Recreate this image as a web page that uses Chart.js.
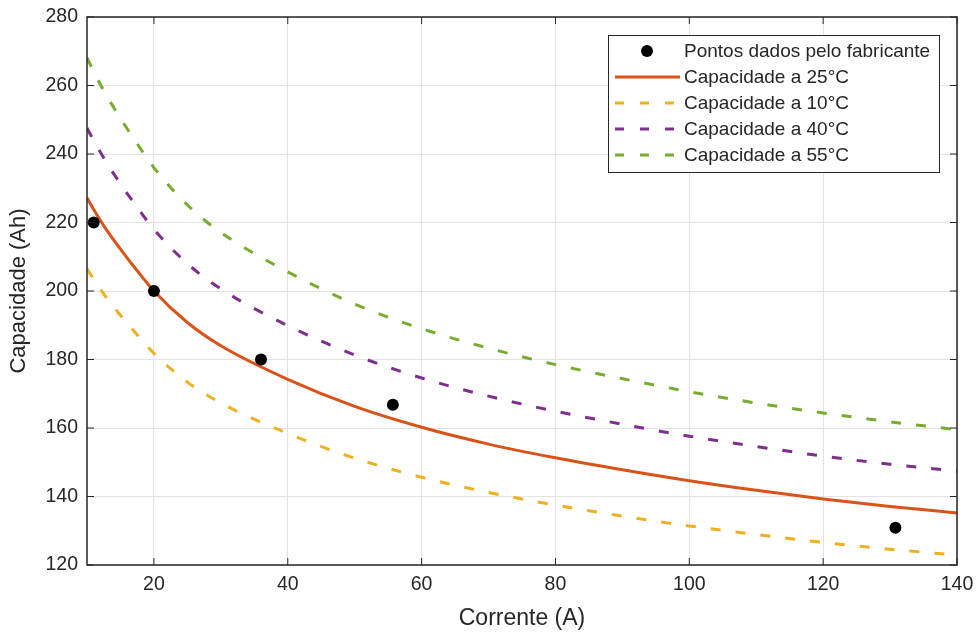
<!DOCTYPE html>
<html>
<head>
<meta charset="utf-8">
<script src="https://cdn.jsdelivr.net/npm/chart.js@4.4.0/dist/chart.umd.min.js"></script>
<style>
  html, body { margin: 0; padding: 0; background: #fff; }
  #wrap { width: 976px; height: 635px; }
</style>
</head>
<body>
<div id="wrap"><canvas id="line_chart" width="976" height="635"></canvas></div>
<script>
// Eixos
const xTicks = [20, 40, 60, 80, 100, 120, 140];
const yTicks = [120, 140, 160, 180, 200, 220, 240, 260, 280];

// Pontos dados pelo fabricante
const pontosX = [11, 20, 36, 55.7, 130.8];
const pontosY = [220, 200, 180, 166.8, 130.9];

// Curvas de capacidade
const correnteX = [10, 11, 12, 13, 15, 17.5, 20, 25, 30, 40, 50, 60, 70, 80, 90, 100, 110, 120, 130, 140];
const cap25 = [227.2, 223.8, 220.6, 217.6, 212.2, 205.9, 200.0, 190.8, 184.0, 174.2, 166.3, 160.2, 155.3, 151.3, 147.8, 144.6, 141.8, 139.3, 137.1, 135.2];
const cap10 = [206.5, 203.4, 200.5, 197.8, 192.9, 187.2, 181.8, 173.4, 167.3, 158.4, 151.2, 145.6, 141.2, 137.5, 134.3, 131.4, 128.9, 126.6, 124.6, 122.9];
const cap40 = [247.6, 243.9, 240.5, 237.2, 231.3, 224.4, 218.0, 208.0, 200.6, 189.9, 181.3, 174.6, 169.3, 164.9, 161.1, 157.6, 154.6, 151.8, 149.4, 147.4];
const cap55 = [268.1, 264.1, 260.3, 256.8, 250.4, 243.0, 236.0, 225.1, 217.1, 205.6, 196.2, 189.0, 183.3, 178.5, 174.4, 170.6, 167.3, 164.4, 161.8, 159.5];

const fonte = "'Liberation Sans', Arial, sans-serif";
const corTexto = '#262626';

function toXY(xs, ys) {
    let out = [];
    for (let i = 0; i < xs.length; i++) {
        out.push({ x: xs[i], y: ys[i] });
    }
    return out;
}

function curva(label, data, color, dashed) {
    return {
        label: label,
        data: toXY(correnteX, data),
        borderColor: color,
        backgroundColor: color,
        borderWidth: 3,
        borderDash: dashed ? [10, 15] : [],
        pointRadius: 0,
        cubicInterpolationMode: 'monotone',
        fill: false
    };
}

// moldura preta com marcas para dentro (estilo MATLAB)
const frame = {
    id: 'frame',
    afterDatasetsDraw(chart) {
        const ctx = chart.ctx;
        const a = chart.chartArea;
        const xs = chart.scales.x;
        const ys = chart.scales.y;
        const len = 7;
        ctx.save();
        ctx.strokeStyle = corTexto;
        ctx.lineWidth = 1.5;
        ctx.strokeRect(a.left, a.top, a.right - a.left, a.bottom - a.top);
        ctx.lineWidth = 1;
        ctx.beginPath();
        xTicks.forEach(function (v) {
            let px = xs.getPixelForValue(v);
            ctx.moveTo(px, a.bottom); ctx.lineTo(px, a.bottom - len);
            ctx.moveTo(px, a.top); ctx.lineTo(px, a.top + len);
        });
        yTicks.forEach(function (v) {
            let py = ys.getPixelForValue(v);
            ctx.moveTo(a.left, py); ctx.lineTo(a.left + len, py);
            ctx.moveTo(a.right, py); ctx.lineTo(a.right - len, py);
        });
        ctx.stroke();
        ctx.restore();
    }
};

// legenda dentro do grafico
const legendBox = {
    id: 'legendBox',
    afterDraw(chart) {
        const ctx = chart.ctx;
        const sets = chart.data.datasets;
        const left = 608, top = 35, right = 939, bottom = 172;
        const rows = [51, 77, 103, 129, 155];
        ctx.save();
        ctx.fillStyle = '#fff';
        ctx.fillRect(left, top, right - left, bottom - top);
        ctx.strokeStyle = corTexto;
        ctx.lineWidth = 1;
        ctx.strokeRect(left + 0.5, top + 0.5, right - left, bottom - top);
        ctx.font = '19px ' + fonte;
        ctx.textBaseline = 'middle';
        for (let i = 0; i < sets.length; i++) {
            let ds = sets[i];
            let y = rows[i];
            if (ds.showLine === false) {
                ctx.fillStyle = ds.backgroundColor;
                ctx.beginPath();
                ctx.arc(647, y, 6, 0, Math.PI * 2);
                ctx.fill();
            } else {
                ctx.strokeStyle = ds.borderColor;
                ctx.lineWidth = 3;
                ctx.setLineDash(ds.borderDash.length ? [9, 16] : []);
                ctx.beginPath();
                ctx.moveTo(615, y);
                ctx.lineTo(680, y);
                ctx.stroke();
                ctx.setLineDash([]);
            }
            ctx.fillStyle = corTexto;
            ctx.fillText(ds.label, 684, y + 1);
        }
        ctx.restore();
    }
};

const config = {
    type: 'line',
    data: {
        datasets: [{
            label: 'Pontos dados pelo fabricante',
            data: toXY(pontosX, pontosY),
            showLine: false,
            pointRadius: 6,
            pointHoverRadius: 6,
            borderWidth: 0,
            pointBorderWidth: 0,
            backgroundColor: '#000',
            borderColor: '#000',
            pointBackgroundColor: '#000'
        },
            curva('Capacidade a 25°C', cap25, '#D95319', false),
            curva('Capacidade a 10°C', cap10, '#EDB120', true),
            curva('Capacidade a 40°C', cap40, '#7E2F8E', true),
            curva('Capacidade a 55°C', cap55, '#77AC30', true)
        ]
    },
    options: {
        responsive: false,
        animation: false,
        layout: { padding: { top: 17, right: 19, left: 0, bottom: 0 } },
        plugins: {
            legend: { display: false },
            tooltip: { enabled: false }
        },
        scales: {
            x: {
                type: 'linear',
                min: 10,
                max: 140,
                afterBuildTicks: function (scale) {
                    scale.ticks = xTicks.map(function (v) { return { value: v }; });
                },
                afterFit: function (scale) {
                    scale.height = 70;
                    scale.paddingLeft = 0;
                    scale.paddingRight = 0;
                },
                grid: { color: '#e3e3e3', lineWidth: 1, drawTicks: false },
                border: { display: false },
                ticks: { color: corTexto, font: { family: fonte, size: 19.5 }, padding: 8, maxRotation: 0 },
                title: {
                    display: true,
                    text: 'Corrente (A)',
                    color: corTexto,
                    font: { family: fonte, size: 23 },
                    padding: { top: 0, bottom: 3 }
                }
            },
            y: {
                type: 'linear',
                min: 120,
                max: 280,
                afterBuildTicks: function (scale) {
                    scale.ticks = yTicks.map(function (v) { return { value: v }; });
                },
                afterFit: function (scale) {
                    scale.width = 87;
                    scale.paddingTop = 0;
                    scale.paddingBottom = 0;
                },
                grid: { color: '#e3e3e3', lineWidth: 1, drawTicks: false },
                border: { display: false },
                ticks: { color: corTexto, font: { family: fonte, size: 19.5 }, padding: 9 },
                title: {
                    display: true,
                    text: 'Capacidade (Ah)',
                    color: corTexto,
                    font: { family: fonte, size: 22 },
                    padding: { top: 6, bottom: 0 }
                }
            }
        }
    },
    plugins: [frame, legendBox]
};

new Chart(document.getElementById('line_chart').getContext('2d'), config);
</script>
</body>
</html>
